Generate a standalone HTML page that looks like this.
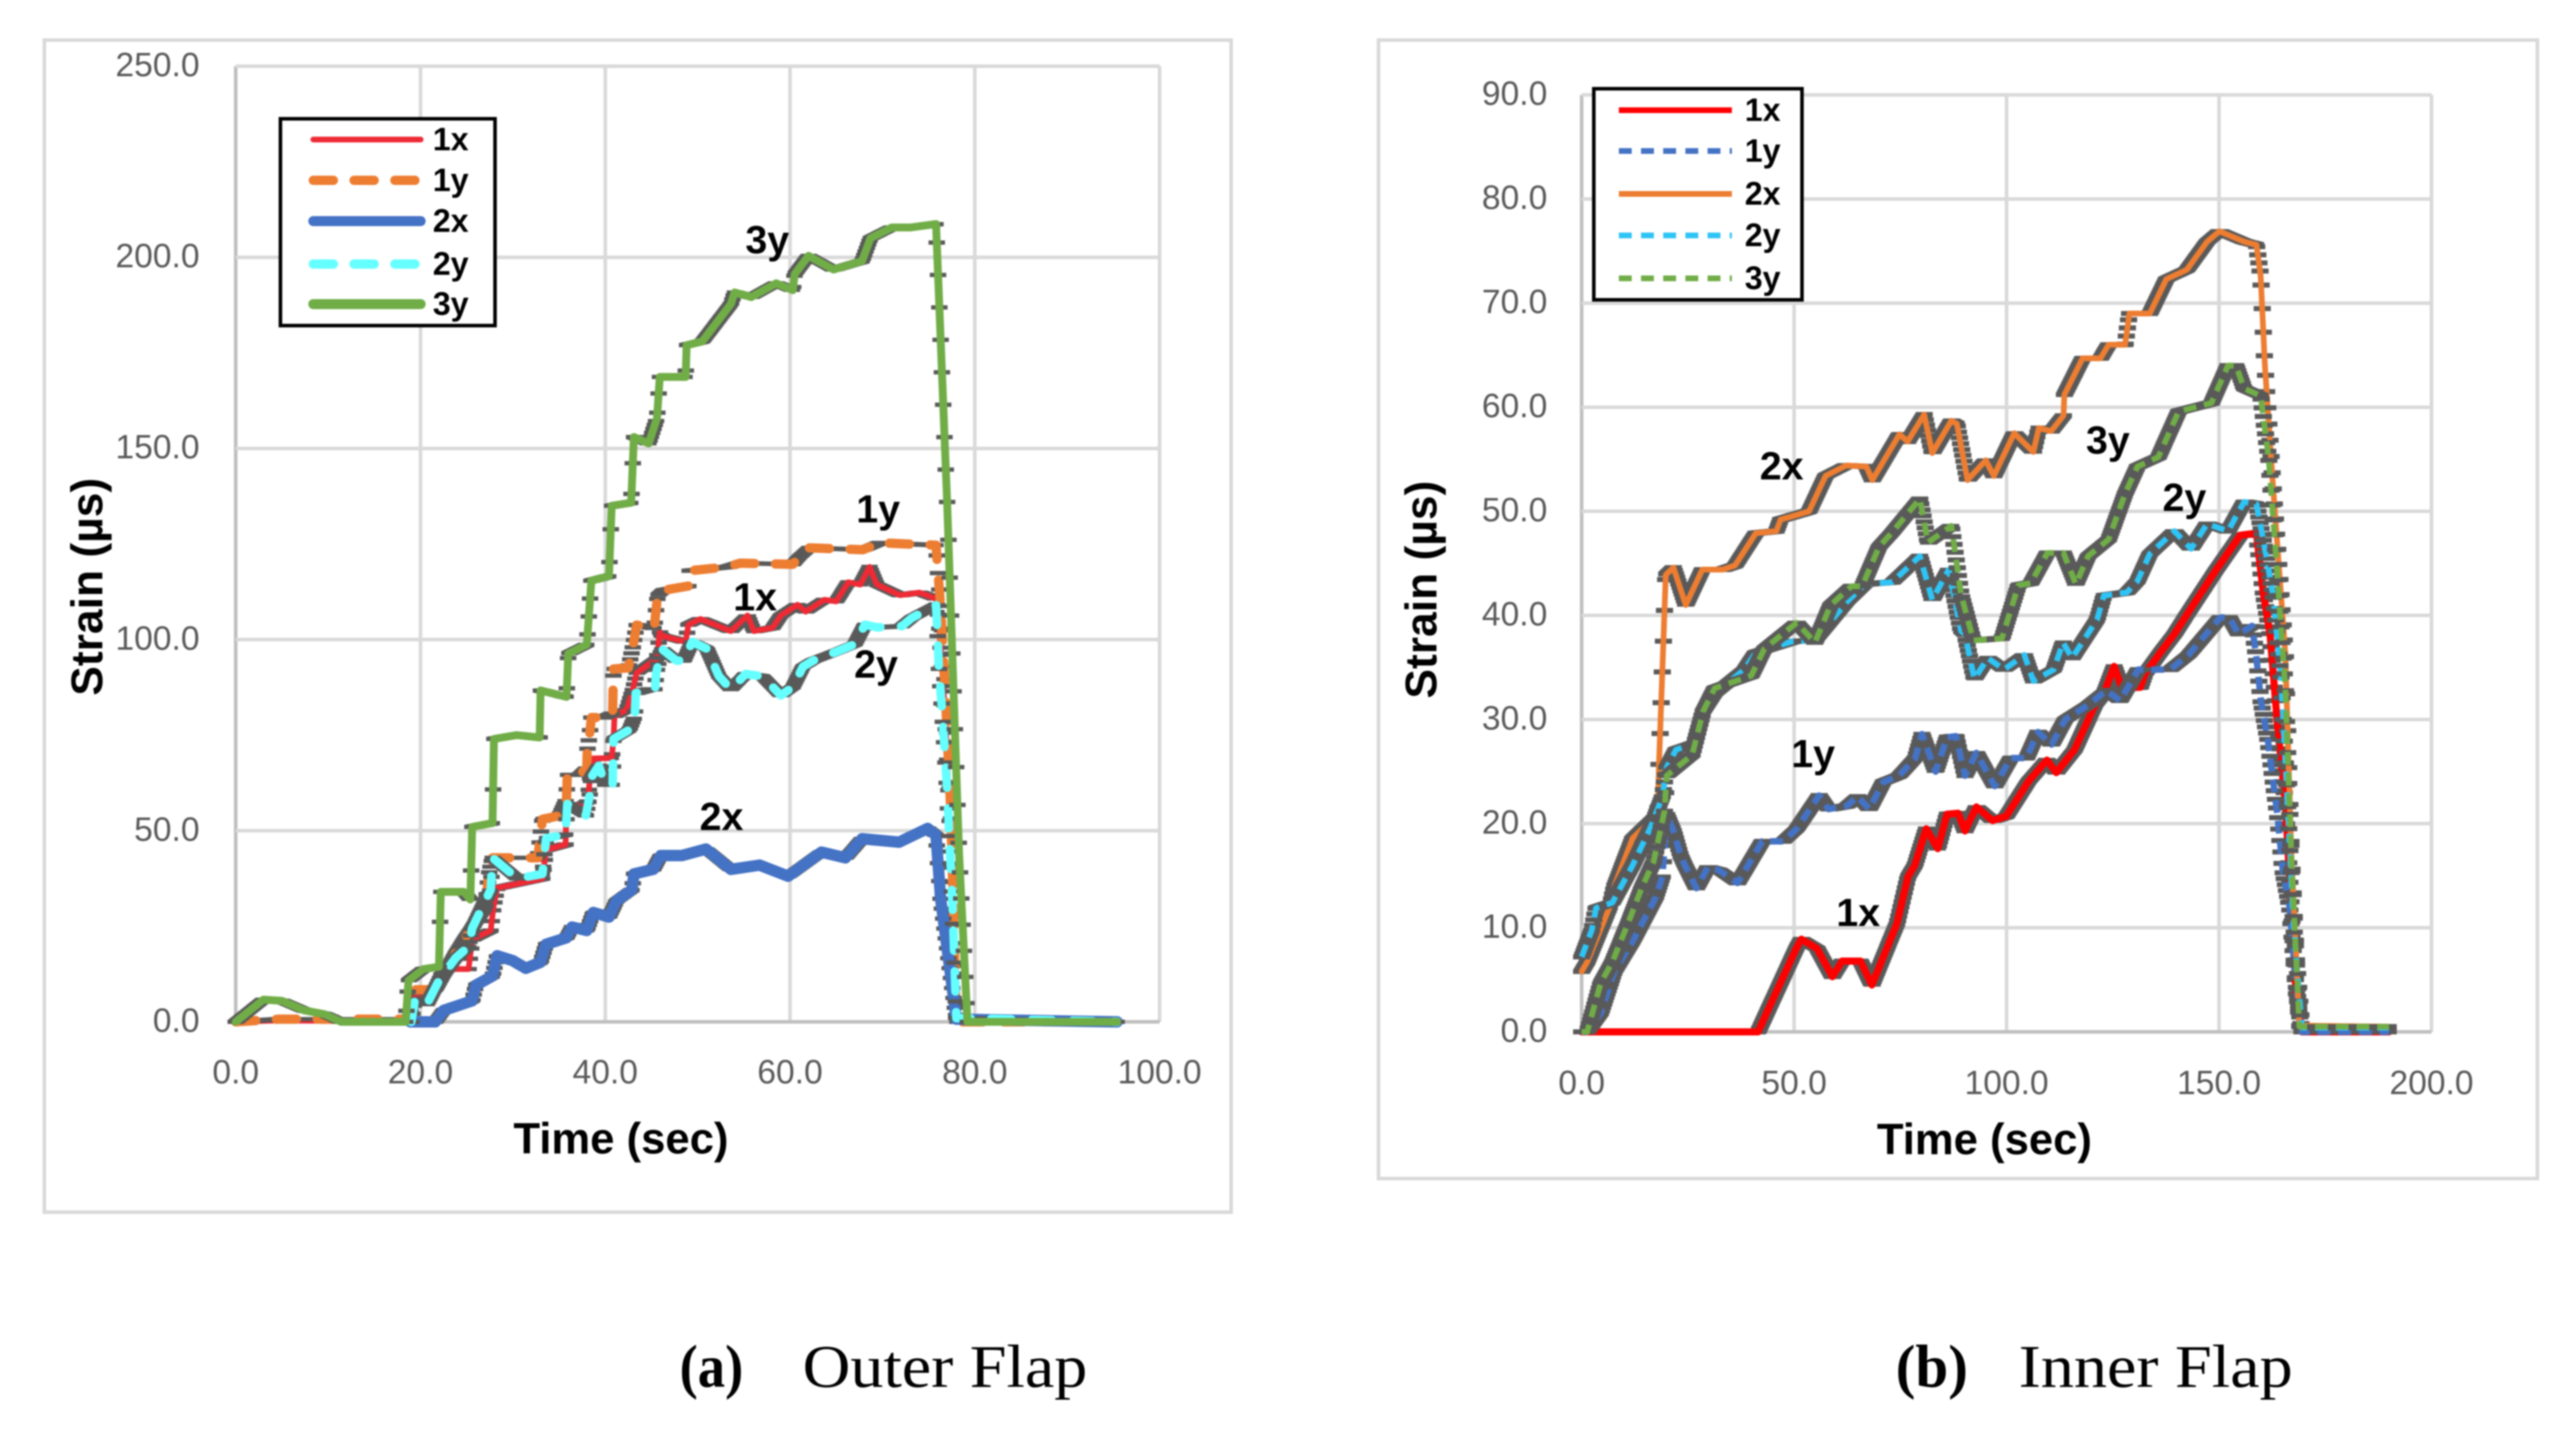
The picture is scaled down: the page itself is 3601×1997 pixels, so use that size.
<!DOCTYPE html>
<html lang="en">
<head>
<meta charset="utf-8">
<title>Strain vs Time: Outer Flap and Inner Flap</title>
<style>
html,body{margin:0;padding:0;background:#fff;width:3601px;height:1997px;overflow:hidden}
svg{display:block;filter:blur(1px)}
text{font-family:"Liberation Sans",sans-serif}
.tick{font-size:47px;fill:#595959}
.axis-title{font-size:61px;font-weight:bold;fill:#000}
.note{font-size:55px;font-weight:bold;fill:#000}
.legend-text{font-size:45px;font-weight:bold;fill:#000}
.cap{font-family:"Liberation Serif",serif;font-size:85px;fill:#000}
</style>
</head>
<body>
<svg id="figure" xmlns="http://www.w3.org/2000/svg" width="3601" height="1997" viewBox="0 0 3601 1997">
  <rect x="0" y="0" width="3601" height="1997" fill="#fff"/>
  <rect x="62" y="56" width="1659" height="1638" fill="#fff" stroke="#d9d9d9" stroke-width="5"/>
  <rect x="1927" y="56" width="1620" height="1591" fill="#fff" stroke="#d9d9d9" stroke-width="5"/>
  <g id="outer-plot"></g>
  <g id="inner-plot"></g>

  <text class="axis-title" text-anchor="middle" transform="translate(143 820) rotate(-90)" font-size="62" style="font-size:62px">Strain (µs)</text>
  <text class="axis-title" text-anchor="middle" x="868" y="1612">Time (sec)</text>
  <text class="axis-title" text-anchor="middle" transform="translate(2008 824) rotate(-90)" font-size="62" style="font-size:62px">Strain (µs)</text>
  <text class="axis-title" text-anchor="middle" x="2774" y="1613">Time (sec)</text>

  <g>
    <text class="note" x="1042" y="354">3y</text>
    <text class="note" x="1197" y="730">1y</text>
    <text class="note" x="1025" y="853">1x</text>
    <text class="note" x="1194" y="947">2y</text>
    <text class="note" x="978" y="1160">2x</text>
  </g>
  <g>
    <text class="note" x="2460" y="670">2x</text>
    <text class="note" x="2916" y="634">3y</text>
    <text class="note" x="3023" y="714">2y</text>
    <text class="note" x="2504" y="1072">1y</text>
    <text class="note" x="2567" y="1294">1x</text>
  </g>

  <g>
    <rect x="392" y="166" width="300" height="289" fill="#fff" stroke="#000" stroke-width="5"/>
    <g>
      <line x1="438" y1="195" x2="588" y2="195" stroke="#ee2a35" stroke-width="8" stroke-linecap="round"/>
      <text class="legend-text" x="605" y="210">1x</text>
    </g>
    <g>
      <line x1="438" y1="252" x2="588" y2="252" stroke="#ed7d31" stroke-width="13" stroke-linecap="round" stroke-dasharray="28 29"/>
      <text class="legend-text" x="605" y="267">1y</text>
    </g>
    <g>
      <line x1="438" y1="309" x2="588" y2="309" stroke="#4472c4" stroke-width="14" stroke-linecap="round"/>
      <text class="legend-text" x="605" y="324">2x</text>
    </g>
    <g>
      <line x1="438" y1="369" x2="588" y2="369" stroke="#66ffff" stroke-width="13" stroke-linecap="round" stroke-dasharray="28 29"/>
      <text class="legend-text" x="605" y="384">2y</text>
    </g>
    <g>
      <line x1="438" y1="425" x2="588" y2="425" stroke="#70ad47" stroke-width="14" stroke-linecap="round"/>
      <text class="legend-text" x="605" y="440">3y</text>
    </g>
  </g>

  <g>
    <rect x="2228" y="124" width="291" height="295" fill="#fff" stroke="#000" stroke-width="5"/>
    <g>
      <line x1="2263" y1="154" x2="2421" y2="154" stroke="#ff0000" stroke-width="8"/>
      <text class="legend-text" x="2439" y="169">1x</text>
    </g>
    <g>
      <line x1="2263" y1="211" x2="2421" y2="211" stroke="#4472c4" stroke-width="8" stroke-dasharray="18 13"/>
      <text class="legend-text" x="2439" y="226">1y</text>
    </g>
    <g>
      <line x1="2263" y1="271" x2="2421" y2="271" stroke="#ed7d31" stroke-width="8"/>
      <text class="legend-text" x="2439" y="286">2x</text>
    </g>
    <g>
      <line x1="2263" y1="329" x2="2421" y2="329" stroke="#2ec4f6" stroke-width="8" stroke-dasharray="18 13"/>
      <text class="legend-text" x="2439" y="344">2y</text>
    </g>
    <g>
      <line x1="2263" y1="389" x2="2421" y2="389" stroke="#70ad47" stroke-width="8" stroke-dasharray="18 13"/>
      <text class="legend-text" x="2439" y="404">3y</text>
    </g>
  </g>

  <g>
    <text class="cap" font-weight="bold" x="950" y="1938" textLength="89" lengthAdjust="spacingAndGlyphs">(a)</text>
    <text class="cap" x="1122" y="1938" textLength="398" lengthAdjust="spacingAndGlyphs">Outer Flap</text>
  </g>
  <g>
    <text class="cap" font-weight="bold" x="2650" y="1938" textLength="101" lengthAdjust="spacingAndGlyphs">(b)</text>
    <text class="cap" x="2822" y="1938" textLength="383" lengthAdjust="spacingAndGlyphs">Inner Flap</text>
  </g>
</svg>

<script>
/* ---------- Outer flap data ---------- */
const outerXTicks = [0, 20, 40, 60, 80, 100];
const outerXLabels = ["0.0", "20.0", "40.0", "60.0", "80.0", "100.0"];
const outerYTicks = [0, 50, 100, 150, 200, 250];
const outerYLabels = ["0.0", "50.0", "100.0", "150.0", "200.0", "250.0"];

const outerTime1x = [0,4.7,18.7,19.2,21.6,22.5,25.2,25.6,27.6,27.9,28.3,33.2,33.6,35.7,35.8,37.4,38.1,38.3,38.7,40.7,40.9,41,42.3,43,43.4,45.6,45.9,46.1,48.7,49,50.3,53.6,55.4,56.1,58.1,59,60.8,61.7,63.7,65,66.3,67.6,68.6,69.4,71.9,74,75.8,76.1,76.8,77.5,78.2,95.4];
const outerStrain1x = [0,0.4,0,7,8.4,13.8,13.8,21.5,23.9,30,35,37.5,45,46.4,57,56.4,57.7,62.7,68.9,69,74,80,81.6,87,91.3,95,102,101,99.4,103.9,105.4,102.2,106.3,102.2,103.1,106.3,109.1,107.3,110.4,110,115,114.4,119,114.4,111.6,112.3,110.7,105,80,40,0,0];

const outerTime1y = [0,4.7,18.7,19.4,21.6,23.8,24.7,27,27.4,27.8,32.7,33.2,35,35.8,35.9,37.2,38,38.05,38.3,38.5,39.8,40.8,40.85,40.9,42.5,43,43.4,45.3,45.6,45.7,46.3,49,49.1,53.2,54.6,60.3,61,62.1,67.9,69.7,75.8,76,76.3,76.8,77.4,78,95.4];
const outerStrain1y = [0,0.7,0.7,8.4,8.4,18,21.5,29.8,38.7,42.9,42.9,53,53.9,58.3,64.6,64.6,66.4,71,74.9,79.6,79.6,80.7,88,92.3,92.6,98.2,103.8,103,110,111.6,112.9,114,118,119,120,119.7,121.6,124,123.5,125.3,124.7,118,108.8,86,55,0,0];

const outerTime2x = [18.9,21.6,22.5,25.6,26,27.8,28.3,30,31.4,33,33.6,35.8,36.4,38,38.7,40.4,41.2,42.9,43.1,45.2,46,48.3,50.9,53.6,56.7,59.8,63.4,66,67.8,71.8,74.9,75.8,76.3,78,95.4];
const outerStrain2x = [0,0,3,5.5,9.6,12,17.3,16,14,15.6,20.3,22,24.8,23.9,28.6,27.4,31.6,34.6,38.7,39.9,43.5,43.5,45.2,39.9,41,38.1,44.4,42.9,47.9,47,50.6,48.8,32.2,0.7,0];

const outerTime2y = [19,19.4,20.7,22,23.8,25.2,25.6,27.6,27.8,30.5,33.2,33.6,35.7,35.9,37.9,38.3,38.5,39.3,40,40.8,40.9,42.6,43.2,43.3,44.8,45.4,45.5,46.1,47.7,48.5,49.4,51,52.3,53.6,55.2,57,59,60.3,61.4,62.5,65.2,67,68.1,69.4,72.1,73.2,75.8,76,76.1,76.5,77,77.6,78,95.4];
const outerStrain2y = [0,6,4.6,10.8,16.7,19.7,24.5,34.6,42.9,37.5,38.7,48,49,57,54,59,64,67,62,62,74,76.4,80,86,87,87,91,97.6,94.5,94.5,99.4,97.6,90.4,87,91,90.4,85.4,87.6,92.9,94.5,97,98.8,103.9,103.2,103.5,105.7,109,100,93,80,61,30,1,0];

const outerTime3y = [0,3,5,7.4,9.6,11.4,18.4,18.7,20.3,22,22.2,24.7,25.4,25.6,27.8,27.95,30.4,32.9,33,35.8,36,38,38.5,40.4,40.7,42.8,43.1,44.7,45.6,45.9,48.7,48.8,50.5,53.6,54,55.8,58.5,60.3,60.5,62,64.7,67.8,68.7,71,73,75.8,77,78.3,79.2,95.4];
const outerStrain3y = [0,5.8,5.5,3,2,0,0,10.8,13.8,14.4,34,34,32,51,52,74,75,74.4,86.7,85,96.3,98.7,115.4,116.6,135,135.8,153,151.3,157.9,168.7,168.7,177,178,187.8,190.8,189.6,193.2,191.4,195.6,200.4,196.8,199,205,207.8,207.8,208.7,136,44,0,0];

/* ---------- Inner flap data ---------- */
const innerXTicks = [0, 50, 100, 150, 200];
const innerXLabels = ["0.0", "50.0", "100.0", "150.0", "200.0"];
const innerYTicks = [0, 10, 20, 30, 40, 50, 60, 70, 80, 90];
const innerYLabels = ["0.0", "10.0", "20.0", "30.0", "40.0", "50.0", "60.0", "70.0", "80.0", "90.0"];

const innerTime1x = [0,41.5,50.6,51.7,55.4,59,61.3,65.6,68.3,74.2,76.8,78.4,81.1,83.8,86,88.6,90.2,92.9,96.7,99.9,105.2,109.5,111.7,116,120.8,122.9,125.3,127.2,131.5,132.6,136.3,139.5,142.3,149.2,155,158.8,160.4,162,163.7,165.6,168.1,169.5,190];
const innerStrain1x = [0,0,8.1,8.9,8,5.3,6.8,6.8,4.5,10.4,14.9,16,19.5,17.6,20.9,21,19.3,21.6,20.3,20.7,24.1,26.1,24.9,27.1,31.4,32.5,35.1,33,33.1,34.4,36.5,38.2,40,44.3,47.7,47.9,42.2,38.2,29.7,22,4,0,0];

const innerTime1y = [0,1.3,4.5,7.7,12,17.4,19,20,21.7,23.3,24.3,27,29.7,32.4,36.7,42.5,47.4,50.6,55.9,58.1,62.4,65,67.7,71,74.7,78.5,80.1,83.3,86,88.1,90.2,92.9,97.2,101,104.7,107.4,110.6,113.8,119.2,123.5,126.7,131,138.5,142.8,150.3,152.4,154.6,157.8,158.8,159.9,161.5,163.7,165,166.6,168,169.5,190];
const innerStrain1y = [0,0,1.8,5.8,8.7,12.9,14.9,20.9,19.2,16.9,16,13.8,15.8,15.5,14.3,18.3,18.3,19.5,22.7,21.4,21.7,22.6,21.4,24,24.6,26.3,28.6,25,28.3,28.4,24.6,26.8,23.6,26.3,26.3,28.8,27.6,30,31.4,32.8,31.8,34.8,34.8,36.2,39.8,39.8,38.2,39,35.9,31.7,28,21,15.5,12,5,0,0];

const innerTime2x = [0,1.3,6.6,7.7,12,17.9,18.2,19,19.8,21.6,24.5,28.4,33.2,36.1,41,45.8,46.8,53.5,57.4,62.2,67,68.4,74.8,76.7,80.6,82.5,87,88.3,90.8,95.1,97,101.8,106.3,107.6,110.5,113.4,113.6,117.9,122.1,124,127.9,128.9,133.7,137.6,142.4,147.2,150.1,155.9,158.8,159.8,160.8,162.7,165.6,167,168.9,190];
const innerStrain2x = [5.8,6.7,12,14,18.6,20.9,25.7,34.8,43.9,44.6,41,44.4,44.4,44.8,47.9,48.1,49.2,50,53.4,54.4,54.3,53,57.4,56.7,59.3,55.6,58.7,58.4,53,54.9,53.4,57.5,55.7,58,57.7,59.2,61.2,64.7,64.7,66,66,69,69,72.3,73.2,75.9,76.9,75.9,75.6,72.6,63.9,52.5,36.3,17.2,0.6,0.5];

const innerTime2y = [0,2.4,3.4,7.2,12,16.3,19,20,22.2,26.5,28.6,31.3,38.3,40.9,49.5,54.9,62.4,66.7,73.1,79.6,82.5,86.4,89.3,90.2,92.4,95.6,99.4,104.2,106.3,111.1,113.3,115.4,121.3,122.9,128.3,130.8,133.7,139.5,143.4,147.2,152.1,155.9,158.8,160.8,162.7,164.6,165.6,167.5,169.5,190];
const innerStrain2y = [7.2,9.8,11.9,12.4,16,19.7,22.6,25.4,27.1,27.7,30.8,32.5,34.8,36.4,37.5,37.6,41.3,43,43.2,45.7,41.5,44.4,38.5,38.2,33.9,35.9,34.8,36.2,33.7,34.8,37.4,35.9,39.6,41.9,42.2,43.3,45.9,48.1,46.4,48.8,48.1,50.9,50.7,46.4,42,34,26,10.6,0.4,0.4];

const innerTime3y = [0,1.3,4.5,7.2,10.9,14.1,16.9,19.5,20,26,28.6,31.3,39.9,43,50.6,54.9,58.6,63.5,66,70,72.9,79.6,81.5,87,89.3,92.2,98.9,102.8,105.7,109.6,113.4,116.3,119.2,124,127.9,130.8,135.7,140.5,148.2,152.1,154,155.9,159.8,161.7,163.7,165.6,167,168.9,190];
const innerStrain3y = [0,0,4.7,6.7,10.4,13.8,16.3,21.2,24.6,26.6,30.8,33,34.2,36.8,39.3,37.4,41,42.8,42.8,46.6,47.9,51.2,47,48.6,42,37.6,37.8,42.9,43.1,46,46,43,45.7,47.3,51.7,54.3,55.2,59.6,60.4,64,64,61.8,61.1,55,44,33,17,0.5,0.5];

/* ---------- Rendering ---------- */
const NS = "http://www.w3.org/2000/svg";

function makeScale(domainMax, pixelStart, pixelEnd) {
  return function (value) {
    return pixelStart + (value / domainMax) * (pixelEnd - pixelStart);
  };
}

function valueAt(times, values, t) {
  for (let i = 0; i < times.length - 1; i++) {
    if (t <= times[i + 1]) {
      const span = times[i + 1] - times[i];
      if (span <= 0) return values[i + 1];
      return values[i] + (values[i + 1] - values[i]) * (t - times[i]) / span;
    }
  }
  return values[values.length - 1];
}

function drawAxes(root, prefix, xTicks, xLabels, yTicks, yLabels, sx, sy, labelRightX, xLabelY, yLabelShift) {
  const grid = document.createElementNS(NS, "g");
  
  
  root.appendChild(grid);

  const xAxis = document.createElementNS(NS, "g");
  
  
  const yAxis = document.createElementNS(NS, "g");
  
  

  const xMax = xTicks[xTicks.length - 1];
  const yMax = yTicks[yTicks.length - 1];

  xTicks.forEach(function (tick, i) {
    const line = document.createElementNS(NS, "line");
    
    
    line.setAttribute("x1", sx(tick));
    line.setAttribute("x2", sx(tick));
    line.setAttribute("y1", sy(0));
    line.setAttribute("y2", sy(yMax));
    line.setAttribute("stroke", i === 0 ? "#bfbfbf" : "#d9d9d9");
    line.setAttribute("stroke-width", "5");
    grid.appendChild(line);

    const label = document.createElementNS(NS, "text");
    
    
    label.setAttribute("class", "tick");
    label.setAttribute("text-anchor", "middle");
    label.setAttribute("x", sx(tick));
    label.setAttribute("y", xLabelY);
    label.textContent = xLabels[i];
    xAxis.appendChild(label);
  });

  yTicks.forEach(function (tick, i) {
    const line = document.createElementNS(NS, "line");
    
    
    line.setAttribute("x1", sx(0));
    line.setAttribute("x2", sx(xMax));
    line.setAttribute("y1", sy(tick));
    line.setAttribute("y2", sy(tick));
    line.setAttribute("stroke", i === 0 ? "#bfbfbf" : "#d9d9d9");
    line.setAttribute("stroke-width", "5");
    grid.appendChild(line);

    const label = document.createElementNS(NS, "text");
    
    
    label.setAttribute("class", "tick");
    label.setAttribute("text-anchor", "end");
    label.setAttribute("x", labelRightX);
    label.setAttribute("y", sy(tick) + yLabelShift);
    label.textContent = yLabels[i];
    yAxis.appendChild(label);
  });

  root.appendChild(xAxis);
  root.appendChild(yAxis);
}

function drawSeries(root, name, times, values, sx, sy, color, width, dash, cap, step, markWidth, markHeight) {
  const group = document.createElementNS(NS, "g");
  
  

  let markPath = "";
  const last = times[times.length - 1];
  for (let t = times[0]; t <= last; t += step) {
    const x = sx(t) - markWidth / 2;
    const y = sy(valueAt(times, values, t));
    markPath += "M" + x.toFixed(1) + " " + y.toFixed(1) + "h" + markWidth;
  }
  const marks = document.createElementNS(NS, "path");
  
  
  marks.setAttribute("d", markPath);
  marks.setAttribute("fill", "none");
  marks.setAttribute("stroke", "#595959");
  marks.setAttribute("stroke-width", markHeight);
  group.appendChild(marks);

  let linePath = "";
  times.forEach(function (t, i) {
    linePath += (i === 0 ? "M" : "L") + sx(t).toFixed(1) + " " + sy(values[i]).toFixed(1);
  });
  const line = document.createElementNS(NS, "path");
  
  
  line.setAttribute("d", linePath);
  line.setAttribute("fill", "none");
  line.setAttribute("stroke", color);
  line.setAttribute("stroke-width", width);
  line.setAttribute("stroke-linejoin", "round");
  line.setAttribute("stroke-linecap", cap);
  if (dash) line.setAttribute("stroke-dasharray", dash);
  group.appendChild(line);

  root.appendChild(group);
}

const outerRoot = document.getElementById("outer-plot");
const outerSx = makeScale(100, 329.5, 1621);
const outerSy = makeScale(250, 1428, 92.5);
drawAxes(outerRoot, "outer", outerXTicks, outerXLabels, outerYTicks, outerYLabels, outerSx, outerSy, 279, 1514, 14);
drawSeries(outerRoot, "outer-series-1x", outerTime1x, outerStrain1x, outerSx, outerSy, "#ee2a35", 8, null, "round", 0.14, 23, 6);
drawSeries(outerRoot, "outer-series-1y", outerTime1y, outerStrain1y, outerSx, outerSy, "#ed7d31", 13, "28 29", "round", 0.14, 23, 6);
drawSeries(outerRoot, "outer-series-2x", outerTime2x, outerStrain2x, outerSx, outerSy, "#4472c4", 16, null, "round", 0.14, 23, 6);
drawSeries(outerRoot, "outer-series-2y", outerTime2y, outerStrain2y, outerSx, outerSy, "#66ffff", 12, "28 29", "round", 0.14, 23, 6);
drawSeries(outerRoot, "outer-series-3y", outerTime3y, outerStrain3y, outerSx, outerSy, "#70ad47", 11, null, "round", 0.14, 23, 6);

const innerRoot = document.getElementById("inner-plot");
const innerSx = makeScale(200, 2211, 3399);
const innerSy = makeScale(90, 1442, 132.6);
drawAxes(innerRoot, "inner", innerXTicks, innerXLabels, innerYTicks, innerYLabels, innerSx, innerSy, 2163, 1529, 14);
drawSeries(innerRoot, "inner-series-1x", innerTime1x, innerStrain1x, innerSx, innerSy, "#ff0000", 10, null, "round", 0.26, 24, 7);
drawSeries(innerRoot, "inner-series-1y", innerTime1y, innerStrain1y, innerSx, innerSy, "#4472c4", 9, "18 11", "butt", 0.26, 24, 7);
drawSeries(innerRoot, "inner-series-2x", innerTime2x, innerStrain2x, innerSx, innerSy, "#ed7d31", 8, null, "round", 0.26, 24, 7);
drawSeries(innerRoot, "inner-series-2y", innerTime2y, innerStrain2y, innerSx, innerSy, "#2ec4f6", 8, "18 11", "butt", 0.26, 24, 7);
drawSeries(innerRoot, "inner-series-3y", innerTime3y, innerStrain3y, innerSx, innerSy, "#70ad47", 8, "18 11", "butt", 0.26, 24, 7);
</script>
</body>
</html>
